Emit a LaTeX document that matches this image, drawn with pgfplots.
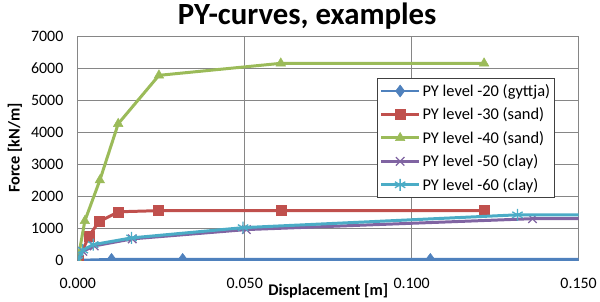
\documentclass[border=0pt]{standalone}
\usepackage{fontspec}
\setmainfont{Carlito}
\usepackage{pgfplots}
\pgfplotsset{compat=1.18}
\definecolor{cblue}{HTML}{4F81BD}
\definecolor{cred}{HTML}{C0504D}
\definecolor{cgreen}{HTML}{9BBB59}
\definecolor{cpurple}{HTML}{8064A2}
\definecolor{ccyan}{HTML}{4BACC6}
\definecolor{cgrid}{HTML}{868686}
\begin{document}
\begin{tikzpicture}
\begin{axis}[
  scale only axis,
  width=502bp, height=225bp,
  xmin=0, xmax=0.15, ymin=0, ymax=7000,
  xtick={0,0.05,0.1,0.15},
  ytick={0,1000,2000,3000,4000,5000,6000,7000},
  xticklabels={0.000,0.050,0.100,0.150},
  yticklabels={0,1000,2000,3000,4000,5000,6000,7000},
  major tick length=0pt,
  grid=major,
  grid style={draw=cgrid, line width=0.7bp},
  axis line style={draw=cgrid, line width=0.7bp},
  tick label style={font=\fontsize{16}{19}\selectfont},
  yticklabel style={xshift=-11bp},
  xticklabel style={anchor=base, yshift=-28bp},
  title={PY-curves, examples},
  title style={font=\fontsize{31}{36}\selectfont\bfseries, at={(axis description cs:0.5,1)}, anchor=base, xshift=-21bp, yshift=5bp},
  xlabel={Displacement [m]},
  ylabel={Force [kN/m]},
  every axis x label/.style={font=\fontsize{16.4}{19}\selectfont\bfseries, at={(axis description cs:0.5,0)}, anchor=base, yshift=-35bp},
  every axis y label/.style={font=\fontsize{16.4}{19}\selectfont\bfseries, at={(axis description cs:0,0.5)}, anchor=center, xshift=-63bp, rotate=90},
  clip marker paths=true,
  legend style={at={(rel axis cs:0.952,0.813)}, anchor=north east, draw=black!75, fill=white, line width=0.8bp, font=\fontsize{16.5}{19}\selectfont, row sep=6bp, inner xsep=2bp, inner ysep=4bp, cells={anchor=west}},
  legend image code/.code={\draw[mark indices={2}] plot coordinates {(0bp,0bp) (19bp,0bp) (38bp,0bp)};},
  every axis plot/.append style={line width=3bp},
]
\addplot[cblue, mark=diamond*, mark size=6bp, mark options={solid, line width=0.5bp}, mark indices={1,2,3,4}] coordinates {
 (0,0) (0.0101,30) (0.0314,30) (0.1056,30) (0.2,30)};
\addplot[cred, mark=square*, mark size=5bp, mark options={line width=0.5bp}] coordinates {
 (0,0) (0.0034,760) (0.0063,1205) (0.0122,1515) (0.0242,1550) (0.0608,1550) (0.1217,1550)};
\addplot[cgreen, mark=triangle*, mark size=5.5bp, mark options={line width=0.5bp}] coordinates {
 (0,0) (0.0021,1230) (0.0066,2500) (0.0121,4260) (0.0243,5770) (0.0608,6145) (0.1217,6145)};
\addplot[cpurple, mark=x, mark size=6bp, mark options={line width=1.3bp}, mark indices={1,2,3,4,5,6}] coordinates {
 (0,0) (0.0015,280) (0.0049,450) (0.0163,670) (0.0505,960) (0.1362,1300) (0.2,1310)};
\addplot[ccyan, mark=asterisk, mark size=6bp, mark options={line width=1.3bp}, mark indices={1,2,3,4,5,6}] coordinates {
 (0,0) (0.0015,320) (0.0046,490) (0.0161,700) (0.0495,1020) (0.1317,1420) (0.2,1420)};
\legend{PY level -20 (gyttja),PY level -30 (sand),PY level -40 (sand),PY level -50 (clay),PY level -60 (clay)}
\coordinate (o) at (rel axis cs:0,0);
\end{axis}
\path (o) ++(-78bp,-39bp) rectangle ++(600bp,300bp);
\end{tikzpicture}
\end{document}
